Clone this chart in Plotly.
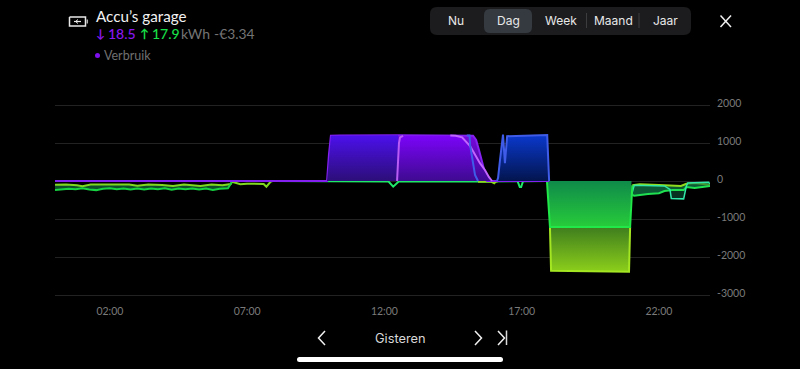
import plotly.graph_objects as go

# ---------- data (hours of the day, watts) ----------
tick_hours = [2, 7, 12, 17, 22]
tick_labels = ["02:00", "07:00", "12:00", "17:00", "22:00"]
y_ticks = [2000, 1000, 0, -1000, -2000, -3000]

outer_t = [0, 9.91, 9.98, 10.05, 10.38, 12.57, 15.23, 15.34, 15.45, 15.56, 15.66, 15.74, 18.0]
outer_v = [0, 0, 700, 1190, 1195, 1205, 1190, 1080, 800, 500, 150, 0, 0]

violet_t = [9.91, 9.98, 10.05, 10.38, 12.5, 12.55]
violet_v = [0, 700, 1190, 1195, 1205, 0]

light_t = [12.46, 12.53, 12.57, 12.68, 14.6, 14.83, 15.12, 15.48, 15.66, 15.81, 15.92]
light_v = [0, 1000, 1150, 1190, 1190, 1150, 920, 470, 290, 100, 0]
light_rise_t = [12.46, 12.53, 12.57, 12.68]
light_rise_v = [0, 1000, 1150, 1190]
light_fall_t = [14.4, 14.6, 14.83, 15.12, 15.48, 15.66, 15.81, 15.92]
light_fall_v = [1195, 1190, 1150, 920, 470, 290, 100, 0]

blue_fall_t = [15.0, 15.1, 15.12, 15.23, 15.30, 15.41]
blue_fall_v = [1200, 1200, 950, 470, 160, 0]

blue_t = [16.1, 16.14, 16.21, 16.29, 16.32, 16.39, 16.47, 17.93, 18.0]
blue_v = [0, 80, 550, 1200, 1220, 470, 1180, 1210, 0]

green_t = [17.92, 18.03, 20.95, 21.0, 21.0]
green_v = [0, -1210, -1210, -370, 0]
green_edge_t = [17.92, 18.03, 20.95, 21.0, 21.03]
green_edge_v = [0, -1210, -1210, -370, -110]

olive_t = [18.03, 18.07, 20.91, 20.95]
olive_v = [-1210, -2360, -2390, -1210]

left_lime_t = [0, 0.4, 0.8, 1.0, 1.3, 1.7, 2.2, 2.7, 3.0, 3.4, 3.9, 4.3, 4.7, 5.0, 5.3, 5.7, 6.1, 6.4, 6.45]
left_lime_v = [-100, -95, -115, -135, -95, -90, -100, -95, -125, -90, -105, -130, -95, -105, -130, -95, -110, -80, -20]
left_green_t = [0, .25, .5, .75, 1.0, 1.25, 1.5, 1.75, 2.0, 2.25, 2.5, 2.75, 3.0, 3.25, 3.5, 3.75, 4.0, 4.25, 4.5, 4.75, 5.0, 5.25, 5.5, 5.75, 6.0, 6.3, 6.45]
left_green_v = [-240, -215, -205, -220, -190, -225, -240, -205, -190, -215, -195, -225, -200, -225, -195, -220, -190, -230, -200, -220, -195, -225, -200, -235, -205, -190, -20]

mid_lime_t = [6.45, 6.6, 6.75, 7.0, 7.45, 7.6, 7.7, 7.85, 7.92]
mid_lime_v = [-20, -60, -85, -70, -70, -80, -150, -20, 0]

dip_t = [7.92, 9.91, 12.0, 12.15, 12.32, 12.45, 12.52, 15.41, 16.85, 16.93, 16.98, 17.05, 17.9]
dip_v = [0, -15, -15, -15, -150, -60, -15, -10, -5, -160, -160, -5, 0]

lime_low_t = [15.41, 15.9, 16.0, 16.05, 16.12]
lime_low_v = [-20, -20, -60, -20, -15]

tail_lime_t = [21.03, 21.3, 22.0, 22.8, 23.0, 23.3, 23.86]
tail_lime_v = [-110, -85, -105, -130, -75, -55, -100]
tail_low_t = [21.03, 21.1, 21.6, 22.0, 22.2, 22.5, 22.9, 23.0, 23.3, 23.86]
tail_low_v = [-370, -385, -340, -320, -265, -240, -240, -160, -185, -130]
tail_teal_t = [21.0, 21.1, 22.2, 22.4, 22.45, 22.9, 23.0, 23.05, 23.8, 23.86]
tail_teal_v = [-370, -110, -130, -220, -460, -470, -130, -50, -30, -70]

# ---------- figure ----------
L, R, T, B = 55, 710, 103, 297
def px(x): return (x - L) / (R - L)
def py(y): return (B - y) / (B - T)

def grad(c_top, c_bot, start, stop):
    return dict(type="vertical", start=start, stop=stop,
                colorscale=[[0, c_top], [1, c_bot]])

fig = go.Figure()
def line(t, v, color, width=2, **kw):
    fig.add_trace(go.Scatter(x=t, y=v, mode="lines", hoverinfo="skip",
                             line=dict(color=color, width=width), **kw))

# negative side
line(left_lime_t, left_lime_v, "#7fd81f")
line(left_green_t, left_green_v, "#17d442", fill="tonexty", fillcolor="#0c4f28")
line(mid_lime_t, mid_lime_v, "#7fd81f")
line(dip_t, dip_v, "#1fe868")
line(lime_low_t, lime_low_v, "#8fdc1f")
line(tail_lime_t, tail_lime_v, "#8fdc1f")
line(tail_low_t, tail_low_v, "#1fe050", fill="tonexty", fillcolor="#0c5a30")
line(tail_teal_t, tail_teal_v, "#30e8a8", 1.5, fill="tonexty", fillcolor="rgba(12,90,60,0.55)")

fig.add_trace(go.Scatter(x=green_t, y=green_v, mode="lines",
                         hoverinfo="skip", line=dict(color="rgba(0,0,0,0)", width=0),
                         fill="toself", fillgradient=grad("#0f8a4a", "#27cc3a", 0, -1210)))
fig.add_trace(go.Scatter(x=olive_t, y=olive_v, mode="lines", hoverinfo="skip",
                         line=dict(color="#a4e622", width=2),
                         fill="toself", fillgradient=grad("#3e7d1e", "#8dd01a", -1210, -2400)))
line(green_edge_t, green_edge_v, "#1fe848")

# positive side
fig.add_trace(go.Scatter(x=outer_t, y=outer_v, mode="lines", hoverinfo="skip",
                         line=dict(color="#8420f0", width=2),
                         fill="tozeroy", fillgradient=grad("#7808e0", "#3c0a80", 1210, 0)))
fig.add_trace(go.Scatter(x=violet_t, y=violet_v, mode="lines", hoverinfo="skip",
                         line=dict(width=0, color="rgba(0,0,0,0)"),
                         fill="toself", fillgradient=grad("#4c10ec", "#2c0e78", 1210, 0)))
fig.add_trace(go.Scatter(x=light_t, y=light_v, mode="lines", hoverinfo="skip",
                         line=dict(color="rgba(0,0,0,0)", width=0),
                         fill="toself", fillgradient=grad("#7c04fa", "#3e0a90", 1210, 0)))
line(light_rise_t, light_rise_v, "#b85cf5")
line(light_fall_t, light_fall_v, "#c264ff")
line(blue_fall_t, blue_fall_v, "#3f5ce8")
fig.add_trace(go.Scatter(x=blue_t, y=blue_v, mode="lines", hoverinfo="skip",
                         line=dict(color="#3f5ce8", width=2),
                         fill="toself", fillgradient=grad("#0a38cc", "#03154e", 1210, 0)))

shapes = []
def rect(x0, y0, x1, y1, fill, r=0):
    path = (f"M {px(x0+r)} {py(y0)} L {px(x1-r)} {py(y0)} Q {px(x1)} {py(y0)} {px(x1)} {py(y0+r)} "
            f"L {px(x1)} {py(y1-r)} Q {px(x1)} {py(y1)} {px(x1-r)} {py(y1)} "
            f"L {px(x0+r)} {py(y1)} Q {px(x0)} {py(y1)} {px(x0)} {py(y1-r)} "
            f"L {px(x0)} {py(y0+r)} Q {px(x0)} {py(y0)} {px(x0+r)} {py(y0)} Z")
    shapes.append(dict(type="path", xref="paper", yref="paper", path=path,
                       fillcolor=fill, line=dict(width=0), layer="below"))
def seg(pts, color, w=1.5):
    path = "M " + " L ".join(f"{px(x)} {py(y)}" for x, y in pts)
    shapes.append(dict(type="path", xref="paper", yref="paper", path=path,
                       line=dict(color=color, width=w)))

# selector
rect(430, 7, 691, 35, "#1c1c1e", 7)
rect(484, 9, 532, 33, "#343a40", 6)
seg([(586.5, 13), (586.5, 28)], "#3c3c3e", 1)
seg([(639, 13), (639, 28)], "#3c3c3e", 1)
# close
seg([(720.5, 15.5), (731, 27)], "#f0f0f0", 1.5)
seg([(731, 15.5), (720.5, 27)], "#f0f0f0", 1.5)
# nav
seg([(325, 331), (318.5, 338), (325, 345)], "#f0f0f0", 1.5)
seg([(475, 331), (481.5, 338), (475, 345)], "#f0f0f0", 1.5)
seg([(498, 331), (504.5, 338), (498, 345)], "#f0f0f0", 1.5)
seg([(506.5, 330.5), (506.5, 345)], "#d8d8d8", 1.5)
rect(297, 357, 503, 362, "#ffffff", 2.5)
# battery icon
seg([(69.5, 17), (85.5, 17), (85.5, 26), (69.5, 26), (69.5, 17)], "#e8e8e8", 1.5)
seg([(87.3, 19.5), (87.3, 23.5)], "#b0b0b0", 1.5)
seg([(74, 21.5), (81, 21.5)], "#e8e8e8", 1.2)
seg([(78, 19.5), (75.5, 21.5), (78, 23.5)], "#e8e8e8", 1)
# legend dot
shapes.append(dict(type="circle", xref="paper", yref="paper",
                   x0=px(95), x1=px(100), y0=py(53), y1=py(58),
                   fillcolor="#7f10ee", line=dict(width=0)))

ann = []
def text(x, y, s, size, color, anchor="left", family="Lato", **kw):
    ann.append(dict(xref="paper", yref="paper", x=px(x), y=py(y), text=s, showarrow=False,
                    xanchor=anchor, yanchor="middle", align=anchor,
                    font=dict(size=size, color=color, family=family, **kw)))

text(94, 16, "Accu’s garage", 15.2, "#f2f2f2")
text(94, 34, "↓", 12, "#8a18f0", weight="bold")
text(106, 34, "18.5", 14, "#8a18f0", weight=500)
text(137.5, 34, "↑", 12, "#18e048", weight="bold")
text(149.5, 34, "17.9", 14, "#18e048", weight=500)
text(179, 34, "kWh", 14, "#747474")
text(212, 34, "-€3.34", 13.8, "#747474")
text(102, 55.5, "Verbruik", 12.5, "#707070")
for label, cx, in [("Nu", 456), ("Dag", 508), ("Week", 560.5), ("Maand", 613), ("Jaar", 665)]:
    text(cx, 21, label, 12, "#e8e8e8", "center", "Inter")
text(400, 338, "Gisteren", 12.8, "#d8d8d8", "center", "Inter")

# y tick labels sit a little above their grid lines, as in the app
for v in y_ticks:
    ann.append(dict(xref="paper", yref="y", x=px(715), y=v, yshift=2.5, text=str(v), showarrow=False,
                    xanchor="left", yanchor="middle",
                    font=dict(size=10.5, color="#7a7a7a", family="Lato")))

fig.update_layout(
    width=800, height=369, showlegend=False,
    paper_bgcolor="#000000", plot_bgcolor="#000000",
    margin=dict(l=L, r=800 - R, t=T, b=369 - B),
    shapes=shapes, annotations=ann,
    font=dict(family="Lato", color="#707070", size=11),
    xaxis=dict(range=[0, 23.86], tickmode="array", tickvals=tick_hours, ticktext=tick_labels,
               showgrid=False, zeroline=False, showline=False, ticks="",
               tickfont=dict(size=10.5, color="#7a7a7a"), ticklabelstandoff=6, fixedrange=True),
    yaxis=dict(range=[-3052.63, 2052.63], side="right", tickmode="array", tickvals=y_ticks,
               showticklabels=False,
               gridcolor="#222222", gridwidth=1, zeroline=False, showline=False, ticks="",
               fixedrange=True),
)

fig.write_html("out.html", config={"displayModeBar": False},
               post_script="document.body.style.margin='0';document.body.style.overflow='hidden';document.body.style.background='#000';")
